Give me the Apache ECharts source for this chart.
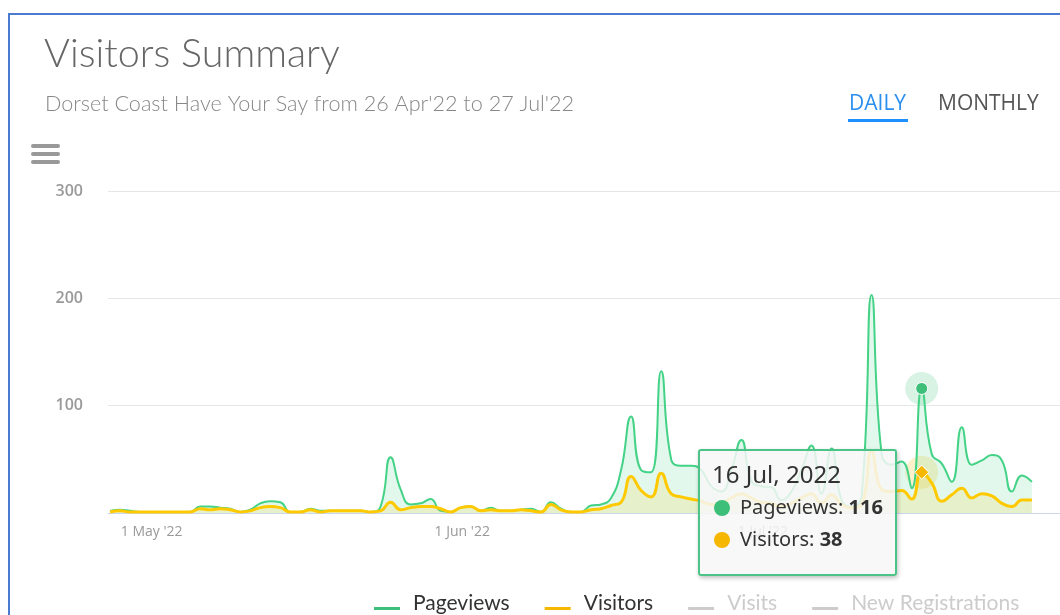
<!DOCTYPE html>
<html><head><meta charset="utf-8">
<script src="https://cdn.jsdelivr.net/npm/echarts@6/dist/echarts.min.js"></script>
<style>
html,body{margin:0;padding:0;background:#fff;width:1060px;height:615px;overflow:hidden}
#frame{position:absolute;left:8px;top:13px;width:1100px;height:700px;border-left:2px solid #4b7bd1;border-top:2px solid #4b7bd1;box-sizing:border-box}
#chart{position:absolute;left:0;top:0;width:1060px;height:615px}
</style></head><body>
<div id="frame"></div><div id="chart"></div>
<script>
// ---- data ----
const startDate = '2022-04-26';
const pageviews = [2,3,2,1,1,1,1,1,1,6,6,5,4,1,3,9,11,10,1,1,4,2,2,2,2,2,1,6,52,22,
  8,9,13,2,1,5,6,2,5,2,2,3,4,1,10,4,1,1,7,8,14,40,90,40,38,132,50,44,44,40,
  25,20,40,68,30,25,24,12,20,40,63,18,60,12,6,16,203,55,45,48,23,116,55,46,29,80,
  45,49,54,49,20,35,29];
const visitors = [1,2,1,1,1,1,1,1,1,4,3,4,3,1,2,5,6,5,1,1,3,1,2,2,2,2,1,2,10,3,
  5,6,6,4,1,5,6,2,3,2,2,3,2,1,8,3,1,1,3,4,7,10,34,21,15,37,18,15,13,11,
  8,9,14,18,14,10,9,6,9,14,18,9,17,8,5,8,58,22,20,21,13,38,28,11,17,23,
  14,18,16,9,6,12,12];
const visits = [];
const registrations = [];
const seriesNames = ['Pageviews','Visitors','Visits','New Registrations'];
const tickDates = ['2022-05-01','2022-06-01','2022-07-01'];
const tickLabels = ["1 May '22","1 Jun '22","1 Jul '22"];
const yTicks = [100,200,300];
const tooltipDate = '2022-07-16';
const monthNames = ['Jan','Feb','Mar','Apr','May','Jun','Jul','Aug','Sep','Oct','Nov','Dec'];

const DAY = 86400000;
function ts(s){const p=s.split('-');return Date.UTC(+p[0],+p[1]-1,+p[2]);}
const t0 = ts(startDate);
function dayIdx(s){return Math.round((ts(s)-t0)/DAY);}
const days = pageviews.map((_,i)=>i);
const pvData = pageviews.map((v,i)=>[days[i],v]);
const viData = visitors.map((v,i)=>[days[i],v]);
const tickIdx = tickDates.map(dayIdx);
const hoverIndex = dayIdx(tooltipDate);

const GREEN = '#3dbf7a', ORANGE = '#f5b700', GRAY = '#cccccc';
const seriesColors = [GREEN, ORANGE, GRAY, GRAY];
const legendIcon = 'path://M0,0L26,0M0,10L26,10L26,13L0,13Z';

const chart = echarts.init(document.getElementById('chart'));
chart.setOption({
  animation:false,
  textStyle:{fontFamily:'Open Sans'},
  grid:{left:108,right:0,top:191,bottom:102,containLabel:false},
  xAxis:{
    type:'value',
    min:-0.2,
    max:94.8,
    axisLine:{show:true,onZero:false,lineStyle:{color:'#ccd6eb',width:1}},
    axisTick:{show:false},
    splitLine:{show:false},
    axisLabel:{
      customValues:tickIdx,
      formatter:function(v){const k=tickIdx.indexOf(Math.round(v));return k>=0?tickLabels[k]:'';},
      color:'#999',fontSize:14,margin:12,padding:[0,17,0,0],fontFamily:'Open Sans'
    }
  },
  yAxis:{
    type:'value',min:0,max:300,interval:100,
    axisLine:{show:false},axisTick:{show:false},
    splitLine:{lineStyle:{color:'#e6e6e6',width:1}},
    axisLabel:{formatter:function(v){return yTicks.indexOf(v)>=0?String(v):'';},
      color:'#999',fontSize:16,fontWeight:600,margin:25,fontFamily:'Open Sans'}
  },
  legend:{
    data:seriesNames.map((n,i)=>({name:n,icon:legendIcon,
      itemStyle:{color:seriesColors[i],borderWidth:0},
      lineStyle:{color:seriesColors[i],width:0}})),
    left:369,top:588,
    itemWidth:26,itemHeight:13,itemGap:35,
    selected:{'Visits':false,'New Registrations':false},
    inactiveColor:GRAY,
    textStyle:{fontFamily:'Lato',fontSize:21,color:'#333',padding:[0,0,0,8]}
  },
  tooltip:{
    trigger:'axis',
    triggerOn:'none',
    alwaysShowContent:true,
    axisPointer:{type:'line',lineStyle:{opacity:0}},
    position:[698,449],
    backgroundColor:'rgba(247,247,247,0.85)',
    borderColor:'#4cc487',borderWidth:2,borderRadius:3,
    padding:[6,12,19,12],
    extraCssText:'box-shadow:1px 2px 4px rgba(0,0,0,0.25);',
    formatter:function(params){
      const d=new Date(t0 + params[0].value[0]*DAY);
      let h='<div style="font-family:Noto Sans;font-size:24px;line-height:34px;color:#333">'+d.getUTCDate()+' '+monthNames[d.getUTCMonth()]+', '+d.getUTCFullYear()+'</div>';
      params.filter(p=>p.seriesName==='Pageviews'||p.seriesName==='Visitors').forEach(p=>{
        h+='<div style="font-family:Noto Sans;font-size:20px;line-height:32px;color:#333"><span style="display:inline-block;width:16px;height:16px;border-radius:8px;background:'+p.color+';margin:0 10px 0 2px;vertical-align:-2px"></span>'+p.seriesName+': <b>'+p.value[1]+'</b></div>';
      });
      return h;
    }
  },
  graphic:[
    {type:'text',left:44,top:34,style:{text:'Visitors Summary',font:'300 39.5px Lato',fill:'#666'}},
    {type:'text',left:45,top:93,style:{text:"Dorset Coast Have Your Say from 26 Apr'22 to 27 Jul'22",font:'300 21.6px Lato',fill:'#888'}},
    {type:'text',left:849,top:94,style:{text:'DAILY',font:'21px Open Sans',fill:'#2b8ff0'}},
    {type:'rect',shape:{x:848,y:119,width:60,height:3},style:{fill:'#1e90ff'}},
    {type:'text',left:938,top:94,style:{text:'MONTHLY',font:'21px Open Sans',fill:'#555'}},
    {type:'rect',shape:{x:31,y:144,width:29,height:4,r:2},style:{fill:'#999'}},
    {type:'rect',shape:{x:31,y:152,width:29,height:4,r:2},style:{fill:'#999'}},
    {type:'rect',shape:{x:31,y:160,width:29,height:4,r:2},style:{fill:'#999'}}
  ],
  series:[
    {name:'Pageviews',type:'line',data:pvData,smooth:0.5,showSymbol:false,
      symbol:'circle',symbolSize:12,color:GREEN,
      lineStyle:{width:2,color:GREEN},
      itemStyle:{color:GREEN,borderColor:'#fff',borderWidth:1},
      areaStyle:{color:'rgba(61,191,122,0.22)'},
      emphasis:{scale:false,focus:'none',lineStyle:{width:2}},z:3},
    {name:'Visitors',type:'line',data:viData,smooth:0.5,showSymbol:false,
      symbol:'diamond',symbolSize:14,color:ORANGE,
      lineStyle:{width:3,color:ORANGE},
      itemStyle:{color:ORANGE,borderColor:'#fff',borderWidth:1},
      areaStyle:{color:'rgba(245,183,0,0.2)'},
      emphasis:{scale:false,focus:'none',lineStyle:{width:3}},z:4},
    {name:'Visits',type:'line',data:visits,color:GRAY,showSymbol:false},
    {name:'New Registrations',type:'line',data:registrations,color:GRAY,showSymbol:false},
    {name:'halo',type:'scatter',silent:true,z:1,tooltip:{show:false},
      data:[[days[hoverIndex],pageviews[hoverIndex]]],symbolSize:33,
      itemStyle:{color:'rgba(61,191,122,0.25)'}},
    {name:'halo2',type:'scatter',silent:true,z:1,tooltip:{show:false},
      data:[[days[hoverIndex],visitors[hoverIndex]]],symbolSize:33,
      itemStyle:{color:'rgba(245,183,0,0.25)'}}
  ]
});
chart.dispatchAction({type:'showTip',seriesIndex:0,dataIndex:hoverIndex});
</script>
</body></html>
